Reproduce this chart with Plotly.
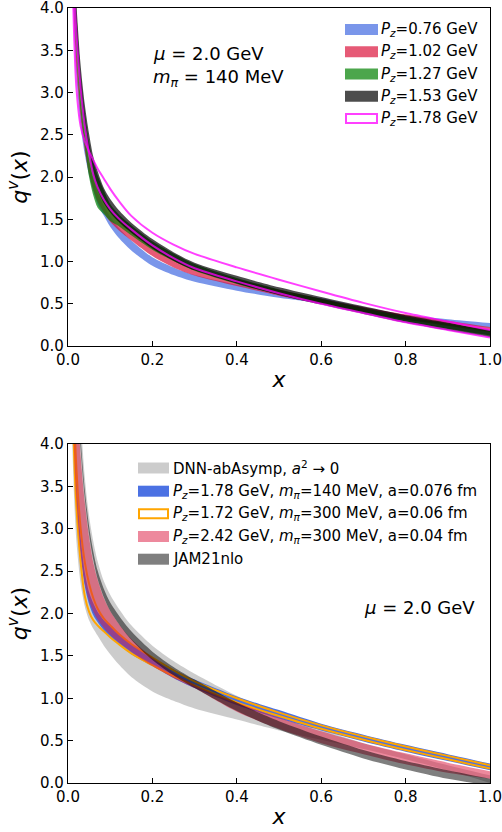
import plotly.graph_objects as go

# ---------------- data ----------------
X = [0.01, 0.015, 0.02, 0.03, 0.04, 0.05, 0.06, 0.07, 0.085, 0.1, 0.12, 0.15,
     0.2, 0.25, 0.3, 0.4, 0.5, 0.6, 0.7, 0.8, 0.9, 1.0]

# top panel: mu = 2 GeV, m_pi = 140 MeV
pz076_lo = [4.45, 3.67, 3.18, 2.6, 2.26, 2.02, 1.83, 1.68, 1.54, 1.41, 1.28, 1.13, 0.95, 0.84, 0.76, 0.655, 0.57, 0.505, 0.402, 0.312, 0.262, 0.217]
pz076_hi = [4.75, 3.93, 3.42, 2.8, 2.44, 2.18, 1.97, 1.82, 1.66, 1.53, 1.40, 1.25, 1.05, 0.93, 0.84, 0.725, 0.63, 0.565, 0.458, 0.368, 0.318, 0.273]
pz102_lo = [4.55, 3.77, 3.28, 2.7, 2.31, 2.04, 1.85, 1.71, 1.58, 1.47, 1.37, 1.25, 1.065, 0.93, 0.835, 0.71, 0.595, 0.5, 0.4, 0.315, 0.24, 0.165]
pz102_hi = [4.85, 4.03, 3.52, 2.9, 2.49, 2.2, 1.99, 1.85, 1.70, 1.59, 1.49, 1.37, 1.175, 1.03, 0.925, 0.79, 0.665, 0.56, 0.46, 0.375, 0.30, 0.225]
pz127_lo = [4.7, 3.92, 3.45, 2.78, 2.35, 2.0, 1.78, 1.64, 1.56, 1.48, 1.42, 1.31, 1.14, 1.005, 0.89, 0.735, 0.61, 0.50, 0.39, 0.29, 0.205, 0.125]
pz127_hi = [5.3, 4.48, 3.95, 3.22, 2.75, 2.4, 2.18, 2.02, 1.84, 1.68, 1.56, 1.43, 1.24, 1.095, 0.97, 0.805, 0.67, 0.56, 0.45, 0.35, 0.265, 0.185]
pz153_lo = [4.95, 4.18, 3.65, 2.98, 2.55, 2.25, 2.0, 1.85, 1.69, 1.58, 1.47, 1.34, 1.155, 1.01, 0.895, 0.74, 0.605, 0.49, 0.38, 0.275, 0.185, 0.105]
pz153_hi = [5.45, 4.62, 4.05, 3.32, 2.85, 2.51, 2.24, 2.07, 1.87, 1.74, 1.61, 1.46, 1.265, 1.11, 0.985, 0.83, 0.695, 0.58, 0.47, 0.365, 0.275, 0.185]
pz178_a = [4.6, 3.6, 3.05, 2.6, 2.42, 2.3, 2.2, 2.1, 1.98, 1.86, 1.72, 1.54, 1.34, 1.2, 1.09, 0.93, 0.785, 0.645, 0.51, 0.39, 0.29, 0.19]
pz178_b = [5.0, 4.2, 3.7, 3.05, 2.6, 2.28, 2.03, 1.88, 1.73, 1.62, 1.51, 1.38, 1.19, 1.04, 0.92, 0.765, 0.625, 0.5, 0.39, 0.28, 0.19, 0.10]

# bottom panel: comparison
dnn_lo = [4.0, 3.3, 2.85, 2.35, 2.08, 1.92, 1.82, 1.74, 1.62, 1.52, 1.40, 1.25, 1.08, 0.97, 0.88, 0.75, 0.62, 0.51, 0.40, 0.28, 0.15, 0.0]
dnn_hi = [7.5, 6.2, 5.3, 4.3, 3.6, 3.15, 2.85, 2.62, 2.38, 2.22, 2.06, 1.86, 1.62, 1.44, 1.29, 1.03, 0.81, 0.63, 0.47, 0.34, 0.21, 0.09]
l140_lo = [4.7, 3.9, 3.38, 2.7, 2.32, 2.11, 1.98, 1.9, 1.8, 1.73, 1.64, 1.52, 1.38, 1.24, 1.12, 0.92, 0.76, 0.62, 0.49, 0.37, 0.26, 0.15]
l140_hi = [5.1, 4.2, 3.62, 2.9, 2.48, 2.25, 2.12, 2.02, 1.92, 1.85, 1.76, 1.64, 1.48, 1.34, 1.22, 1.02, 0.86, 0.70, 0.57, 0.45, 0.34, 0.23]
l300a_lo = [4.6, 3.8, 3.25, 2.6, 2.2, 2.02, 1.92, 1.86, 1.79, 1.72, 1.64, 1.53, 1.39, 1.26, 1.15, 0.95, 0.79, 0.64, 0.51, 0.39, 0.28, 0.17]
l300a_hi = [5.2, 4.3, 3.7, 3.0, 2.6, 2.35, 2.18, 2.06, 1.94, 1.86, 1.76, 1.64, 1.48, 1.33, 1.2, 1.0, 0.83, 0.68, 0.55, 0.43, 0.32, 0.21]
l300b_lo = [4.6, 3.8, 3.3, 2.7, 2.35, 2.15, 2.02, 1.93, 1.83, 1.75, 1.66, 1.55, 1.38, 1.24, 1.12, 0.84, 0.64, 0.47, 0.34, 0.22, 0.12, 0.05]
l300b_hi = [6.5, 5.4, 4.7, 3.85, 3.3, 2.9, 2.6, 2.4, 2.18, 2.03, 1.88, 1.7, 1.48, 1.3, 1.16, 0.95, 0.77, 0.61, 0.47, 0.35, 0.24, 0.14]
jam_lo = [6.9, 5.52, 4.83, 3.94, 3.35, 2.93, 2.63, 2.41, 2.19, 2.03, 1.88, 1.69, 1.45, 1.27, 1.12, 0.85, 0.63, 0.45, 0.29, 0.16, 0.05, -0.03]
jam_hi = [7.1, 5.68, 4.97, 4.06, 3.45, 3.03, 2.73, 2.51, 2.29, 2.13, 1.98, 1.79, 1.55, 1.37, 1.22, 0.95, 0.73, 0.55, 0.39, 0.26, 0.15, 0.05]

X_TICKS = [0.0, 0.2, 0.4, 0.6, 0.8, 1.0]
Y_TICKS = [0.0, 0.5, 1.0, 1.5, 2.0, 2.5, 3.0, 3.5, 4.0]

top_labels = ["<i>P</i><sub><i>z</i></sub>=0.76 GeV", "<i>P</i><sub><i>z</i></sub>=1.02 GeV",
              "<i>P</i><sub><i>z</i></sub>=1.27 GeV", "<i>P</i><sub><i>z</i></sub>=1.53 GeV",
              "<i>P</i><sub><i>z</i></sub>=1.78 GeV"]
bot_labels = ["DNN-abAsymp, <i>a</i><sup>2</sup> → 0",
              "<i>P</i><sub><i>z</i></sub>=1.78 GeV, <i>m</i><sub><i>π</i></sub>=140 MeV, a=0.076 fm",
              "<i>P</i><sub><i>z</i></sub>=1.72 GeV, <i>m</i><sub><i>π</i></sub>=300 MeV, a=0.06 fm",
              "<i>P</i><sub><i>z</i></sub>=2.42 GeV, <i>m</i><sub><i>π</i></sub>=300 MeV, a=0.04 fm",
              "JAM21nlo"]

# ---------------- styling ----------------
W, H = 502, 832
ML, MR, MT, MB = 68, 12, 8, 49
PW, PH = W - ML - MR, H - MT - MB
FONT = "DejaVu Sans"


def pxx(px):
    return (px - ML) / PW


def pxy(py):
    return (H - MB - py) / PH


TOP_DOM = [pxy(346), 1.0]
BOT_DOM = [0.0, pxy(444)]

fig = go.Figure()


def band(lo, hi, color, xa, ya):
    fig.add_trace(go.Scatter(x=X, y=lo, mode="lines", line=dict(width=0, shape="spline", smoothing=0.8),
                             showlegend=False, hoverinfo="skip", xaxis=xa, yaxis=ya))
    fig.add_trace(go.Scatter(x=X, y=hi, mode="lines", fill="tonexty", fillcolor=color,
                             line=dict(width=0, shape="spline", smoothing=0.8),
                             showlegend=False, hoverinfo="skip", xaxis=xa, yaxis=ya))


def curve(y, color, xa, ya, width=2):
    fig.add_trace(go.Scatter(x=X, y=y, mode="lines", line=dict(width=width, color=color, shape="spline", smoothing=0.8),
                             showlegend=False, hoverinfo="skip", xaxis=xa, yaxis=ya))


C_BLUE = "rgba(65,105,225,0.7)"
C_RED = "rgba(220,20,60,0.7)"
C_GREEN = "rgba(0,128,0,0.7)"
C_BLACK = "rgba(0,0,0,0.7)"
C_MAG = "rgba(255,0,255,0.75)"

band(pz076_lo, pz076_hi, C_BLUE, "x", "y")
band(pz102_lo, pz102_hi, C_RED, "x", "y")
band(pz127_lo, pz127_hi, C_GREEN, "x", "y")
band(pz153_lo, pz153_hi, C_BLACK, "x", "y")
curve(pz178_a, C_MAG, "x", "y")
curve(pz178_b, C_MAG, "x", "y")

C_DNN = "rgba(170,170,170,0.6)"
C_L140 = "rgba(65,105,225,0.95)"
C_ORANGE = "#FFA500"
C_PINK = "rgba(220,20,60,0.5)"
C_JAM = "rgba(0,0,0,0.5)"

band(dnn_lo, dnn_hi, C_DNN, "x2", "y2")
band(l140_lo, l140_hi, C_L140, "x2", "y2")
curve(l300a_lo, C_ORANGE, "x2", "y2")
curve(l300a_hi, C_ORANGE, "x2", "y2")
band(l300b_lo, l300b_hi, C_PINK, "x2", "y2")
band(jam_lo, jam_hi, C_JAM, "x2", "y2")

axis_common = dict(showline=True, linecolor="black", linewidth=1.3, mirror=True,
                   ticks="inside", ticklen=5, tickwidth=1.2, tickcolor="black",
                   showgrid=False, zeroline=False, automargin=False,
                   ticklabeloverflow="allow",
                   tickfont=dict(family=FONT, size=15, color="black"))

xt = dict(axis_common, range=[0, 1], tickvals=X_TICKS, tickformat=".1f",
          title=dict(text="<i>x</i>", font=dict(family=FONT, size=22, color="black"), standoff=3))
yt = dict(axis_common, range=[0, 4], tickvals=Y_TICKS, tickformat=".1f",
          title=dict(text="<i>q</i><sup><i>v</i></sup>(<i>x</i>)", font=dict(family=FONT, size=22, color="black"), standoff=6))

fig.update_layout(
    width=W, height=H,
    margin=dict(l=ML, r=MR, t=MT, b=MB, autoexpand=False),
    paper_bgcolor="white", plot_bgcolor="white",
    showlegend=False,
    xaxis=dict(xt, domain=[0, 1], anchor="y"),
    yaxis=dict(yt, domain=TOP_DOM, anchor="x"),
    xaxis2=dict(xt, domain=[0, 1], anchor="y2"),
    yaxis2=dict(yt, domain=BOT_DOM, anchor="x2"),
)

shapes = []
annotations = []

# top legend
top_fill = [C_BLUE, C_RED, C_GREEN, C_BLACK, None]
top_rows = [29.5, 51.8, 74.0, 96.2, 118.5]
for lab, fc, ry in zip(top_labels, top_fill, top_rows):
    if fc is None:
        shapes.append(dict(type="rect", xref="paper", yref="paper", x0=pxx(346), x1=pxx(377),
                           y0=pxy(ry + 4.5), y1=pxy(ry - 4.5), line=dict(color=C_MAG, width=2), fillcolor="white"))
    else:
        shapes.append(dict(type="rect", xref="paper", yref="paper", x0=pxx(345), x1=pxx(378),
                           y0=pxy(ry + 5.5), y1=pxy(ry - 5.5), line=dict(width=0), fillcolor=fc))
    annotations.append(dict(text=lab, xref="paper", yref="paper", x=pxx(379), y=pxy(ry),
                            xanchor="left", yanchor="middle", showarrow=False,
                            font=dict(family=FONT, size=15, color="black")))

# bottom legend
bot_fill = [C_DNN, C_L140, None, C_PINK, C_JAM]
bot_rows = [468.0, 491.2, 513.8, 536.5, 559.2]
for lab, fc, ry in zip(bot_labels, bot_fill, bot_rows):
    if fc is None:
        shapes.append(dict(type="rect", xref="paper", yref="paper", x0=pxx(139), x1=pxx(168),
                           y0=pxy(ry + 4.5), y1=pxy(ry - 4.5), line=dict(color=C_ORANGE, width=2), fillcolor="white"))
    else:
        shapes.append(dict(type="rect", xref="paper", yref="paper", x0=pxx(138), x1=pxx(169),
                           y0=pxy(ry + 5.5), y1=pxy(ry - 5.5), line=dict(width=0), fillcolor=fc))
    annotations.append(dict(text=lab, xref="paper", yref="paper", x=pxx(171), y=pxy(ry),
                            xanchor="left", yanchor="middle", showarrow=False,
                            font=dict(family=FONT, size=15, color="black")))

# text annotations
annotations.append(dict(text="<i>μ</i> = 2.0 GeV", xref="paper", yref="paper", x=pxx(151), y=pxy(53),
                        xanchor="left", yanchor="middle", showarrow=False,
                        font=dict(family=FONT, size=18, color="black")))
annotations.append(dict(text="<i>m</i><sub><i>π</i></sub> = 140 MeV", xref="paper", yref="paper", x=pxx(151), y=pxy(78),
                        xanchor="left", yanchor="middle", showarrow=False,
                        font=dict(family=FONT, size=18, color="black")))
annotations.append(dict(text="<i>μ</i> = 2.0 GeV", xref="paper", yref="paper", x=pxx(362), y=pxy(607),
                        xanchor="left", yanchor="middle", showarrow=False,
                        font=dict(family=FONT, size=18, color="black")))

fig.update_layout(shapes=shapes, annotations=annotations)
fig.write_html("out.html", config={"displayModeBar": False},
               post_script="document.body.style.margin='0';document.body.style.overflow='hidden';")
